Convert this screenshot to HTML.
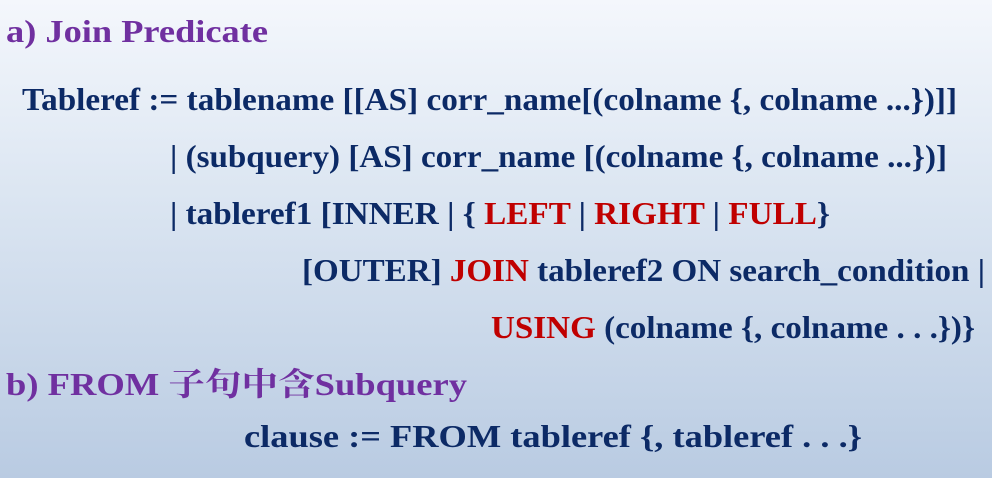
<!DOCTYPE html>
<html><head><meta charset="utf-8"><style>
html,body{margin:0;padding:0}
body{width:992px;height:478px;overflow:hidden;background:linear-gradient(180deg,#f4f7fc 0%,#dce6f2 40%,#b9cbe2 100%)}
svg{display:block}
text{font-family:"Liberation Serif","Noto Serif CJK SC",serif;font-weight:bold;font-size:32px;fill:#0c2a66}
.p{fill:#7030a0}
.r{fill:#c00000}
</style></head><body>
<svg width="992" height="478" xmlns="http://www.w3.org/2000/svg">
<text class="p" x="6" y="42" textLength="262" lengthAdjust="spacingAndGlyphs">a) Join Predicate</text>
<text x="22" y="110" textLength="935" lengthAdjust="spacingAndGlyphs">Tableref := tablename [[AS] corr_name[(colname {, colname ...})]]</text>
<text x="170" y="167" textLength="777" lengthAdjust="spacingAndGlyphs">| (subquery) [AS] corr_name [(colname {, colname ...})]</text>
<text x="170" y="224" textLength="660" lengthAdjust="spacingAndGlyphs">| tableref1 [INNER | { <tspan class="r">LEFT</tspan> | <tspan class="r">RIGHT</tspan> | <tspan class="r">FULL</tspan>}</text>
<text x="302" y="281" textLength="683" lengthAdjust="spacingAndGlyphs">[OUTER] <tspan class="r">JOIN</tspan> tableref2 ON search_condition |</text>
<text x="491" y="338" textLength="484" lengthAdjust="spacingAndGlyphs"><tspan class="r">USING</tspan> (colname {, colname . . .})}</text>
<text class="p" x="6" y="395" textLength="461" lengthAdjust="spacingAndGlyphs">b) FROM 子句中含Subquery</text>
<text x="244" y="447" textLength="618" lengthAdjust="spacingAndGlyphs">clause := FROM tableref {, tableref . . .}</text>
</svg>
</body></html>
